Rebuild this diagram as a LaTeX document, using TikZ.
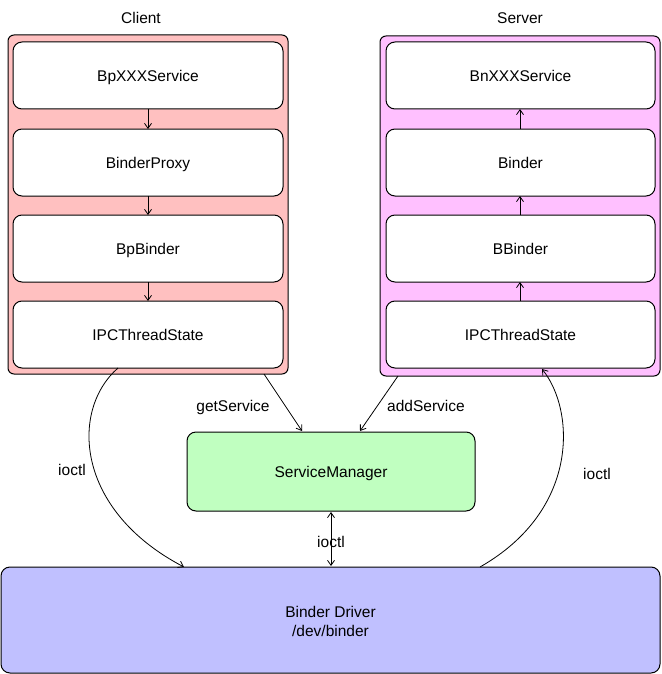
\documentclass[tikz,border=0pt]{standalone}
\usepackage{fontspec}
\setmainfont{Liberation Sans}
\usetikzlibrary{arrows.meta}
\definecolor{clientfill}{RGB}{255,192,192}
\definecolor{serverfill}{RGB}{255,192,255}
\definecolor{smfill}{RGB}{192,255,192}
\definecolor{drvfill}{RGB}{192,192,255}
\begin{document}
\begin{tikzpicture}[x=1pt,y=-1pt,
  font=\fontsize{15.5}{18}\selectfont,
  every node/.style={inner sep=0pt,text height=12.5pt,text depth=0pt},
  container/.style={draw=black,line width=1pt,rounded corners=6pt},
  layerbox/.style={draw=black,line width=1pt,fill=white,rounded corners=9pt},
  conn/.style={line width=0.8pt,-{Straight Barb[length=5pt,width=7pt]}}]
\useasboundingbox (0,0) rectangle (661,674);
% containers
\draw[container,fill=clientfill] (8,35) rectangle (288,374);
\draw[container,fill=serverfill] (380,36) rectangle (660,376);
% client layers
\draw[layerbox] (13,42) rectangle (283,109) node[midway] (bpx) {BpXXXService};
\draw[layerbox] (13,129) rectangle (283,196) node[midway] (bpr) {BinderProxy};
\draw[layerbox] (13,215) rectangle (283,282) node[midway] (bpb) {BpBinder};
\draw[layerbox] (13,301) rectangle (283,368) node[midway] (cipc) {IPCThreadState};
% server layers
\draw[layerbox] (386,42) rectangle (655,109) node[midway] (bnx) {BnXXXService};
\draw[layerbox] (386,129) rectangle (655,196) node[midway] (bin) {Binder};
\draw[layerbox] (386,215) rectangle (655,282) node[midway] (bbin) {BBinder};
\draw[layerbox] (386,301) rectangle (655,368) node[midway] (sipc) {IPCThreadState};
% service manager & driver
\draw[layerbox,fill=smfill] (187,432) rectangle (475,511) node[midway] (sm) {ServiceManager};
\draw[layerbox,fill=drvfill] (1,567) rectangle (660,673) node[midway,align=center,yshift=-10pt] (drv) {Binder Driver\\[1pt]/dev/binder};
% titles
\node (client) at (141,17) {Client};
\node (server) at (520,17) {Server};
% coordinates for connectors
\coordinate (c1a) at (148,109); \coordinate (c1b) at (148,129);
\coordinate (c2a) at (148,196); \coordinate (c2b) at (148,215);
\coordinate (c3a) at (148,282); \coordinate (c3b) at (148,301);
\coordinate (s1a) at (520,129); \coordinate (s1b) at (520,109);
\coordinate (s2a) at (520,215); \coordinate (s2b) at (520,196);
\coordinate (s3a) at (520,301); \coordinate (s3b) at (520,282);
\draw[conn] (c1a) -- (c1b);
\draw[conn] (c2a) -- (c2b);
\draw[conn] (c3a) -- (c3b);
\draw[conn] (s1a) -- (s1b);
\draw[conn] (s2a) -- (s2b);
\draw[conn] (s3a) -- (s3b);
% getService / addService
\coordinate (gs0) at (264,374); \coordinate (gs1) at (302,431);
\coordinate (as0) at (398,376); \coordinate (as1) at (360,431);
\draw[conn] (gs0) -- (gs1);
\draw[conn] (as0) -- (as1);
\node (gsl) at (233,405) {getService};
\node (asl) at (426,405) {addService};
% ioctl curves
\coordinate (l0) at (118,368); \coordinate (l1) at (184,567);
\draw[conn] (l0) .. controls (70,410) and (75,510) .. (l1);
\coordinate (r0) at (480,567); \coordinate (r1) at (542,369);
\draw[conn] (r0) .. controls (580,510) and (575,410) .. (r1);
\coordinate (m0) at (331,512); \coordinate (m1) at (331,566);
\draw[line width=0.8pt,{Straight Barb[length=5pt,width=7pt]}-{Straight Barb[length=5pt,width=7pt]}] (m0) -- (m1);
\node (il) at (72,469) {ioctl};
\node (im) at (331,541) {ioctl};
\node (ir) at (597,473) {ioctl};
\end{tikzpicture}
\end{document}
